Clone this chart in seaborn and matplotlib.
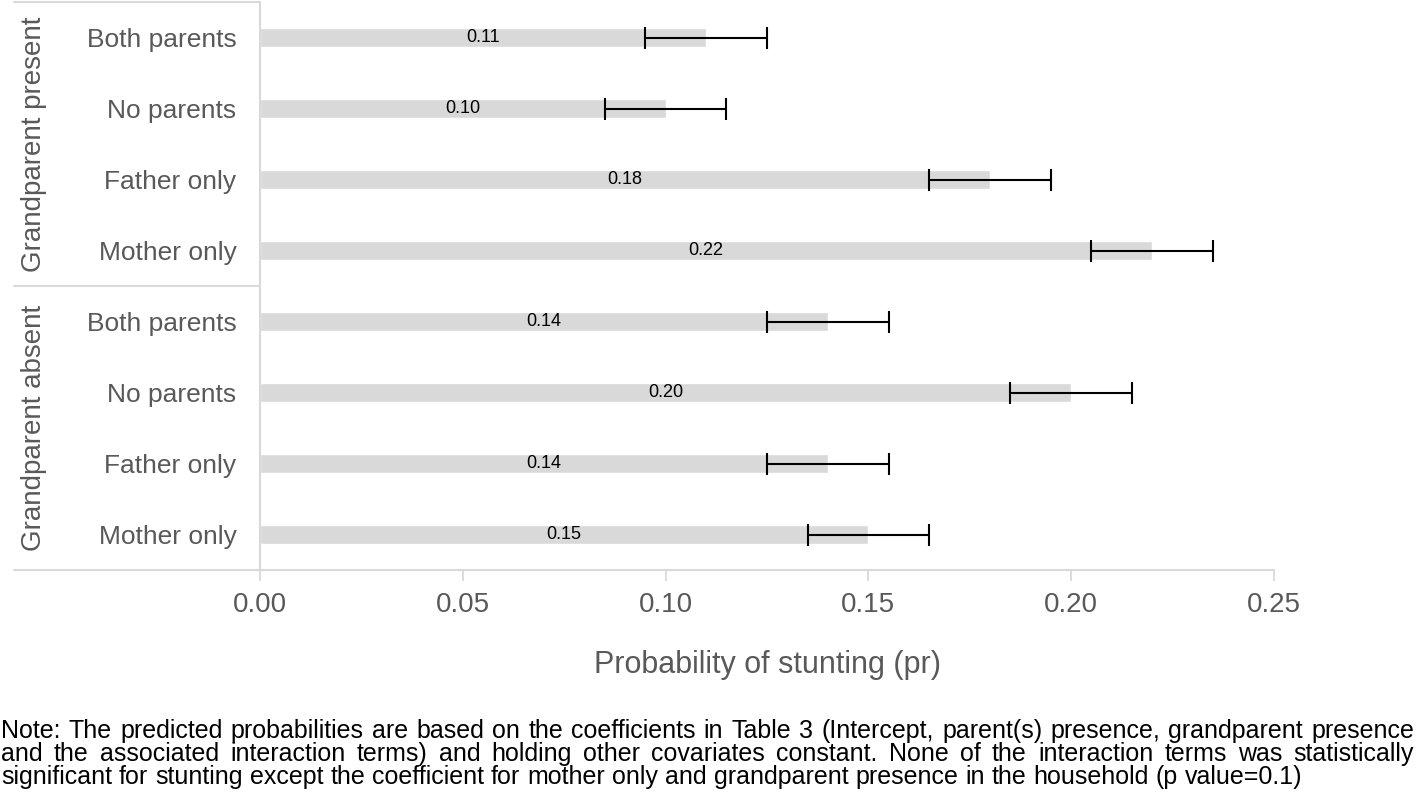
import matplotlib
matplotlib.use('Agg')
import matplotlib.pyplot as plt
import seaborn as sns
import pandas as pd
import numpy as np

# ---------------- data ----------------
groups = ['Grandparent present'] * 4 + ['Grandparent absent'] * 4
parents = ['Both parents', 'No parents', 'Father only', 'Mother only',
           'Both parents', 'No parents', 'Father only', 'Mother only']
probs = [0.11, 0.10, 0.18, 0.22, 0.14, 0.20, 0.14, 0.15]
err_lo = [0.015, 0.015, 0.015, 0.015, 0.015, 0.015, 0.015, 0.015]
err_hi = [0.015, 0.015, 0.015, 0.015, 0.015, 0.015, 0.015, 0.015]
xticks = [0.00, 0.05, 0.10, 0.15, 0.20, 0.25]
group_names = ['Grandparent present', 'Grandparent absent']
xlabel = 'Probability of stunting (pr)'
note_lines = [
    'Note: The predicted probabilities are based on the coefficients in Table 3 (Intercept, parent(s) presence, grandparent presence',
    'and the associated interaction terms) and holding other covariates constant. None of the interaction terms was statistically',
    'significant for stunting except the coefficient for mother only and grandparent presence in the household (p value=0.1)',
]

# ---------------- style ----------------
sns.set_theme(style='white')
plt.rcParams['font.family'] = ['Liberation Sans', 'DejaVu Sans']
GRAY_TXT = '#595959'
GRID = '#d9d9d9'

W, H = 1418, 809
fig = plt.figure(figsize=(W / 100, H / 100), dpi=100)
ax = fig.add_axes([260 / W, 1 - 570 / H, (1274 - 260) / W, (570 - 2) / H])

df = pd.DataFrame({'key': [f'{g}|{p}' for g, p in zip(groups, parents)],
                   'prob': probs})
sns.barplot(data=df, x='prob', y='key', orient='h', color=GRID, saturation=1,
            width=0.26, errorbar=None, ax=ax)

ypos = np.arange(len(probs))
ax.errorbar(df['prob'], ypos, xerr=[err_lo, err_hi], fmt='none',
            ecolor='black', elinewidth=1.5, capsize=8, capthick=1.5, zorder=3)

ax.bar_label(ax.containers[0], labels=[f'{v:.2f}' for v in probs],
             label_type='center', fontsize=13, color='black')

ax.set_xlim(0, 0.25)
ax.set_ylim(len(probs) - 0.5, -0.5)
ax.set_xticks(xticks)
ax.set_xticklabels([f'{t:.2f}' for t in xticks])
ax.set_yticks(ypos)
ax.set_yticklabels(parents)
ax.tick_params(axis='x', bottom=True, length=8, color=GRID, width=1.3,
               labelsize=20, labelcolor=GRAY_TXT, pad=8, direction='out')
ax.tick_params(axis='y', left=False, length=0, labelsize=19,
               labelcolor=GRAY_TXT, pad=17)
sns.despine(ax=ax, top=True, right=True)
for s in ['left', 'bottom']:
    ax.spines[s].set_color(GRID)
    ax.spines[s].set_linewidth(1.5)
ax.set_ylabel('')
ax.set_xlabel(xlabel, fontsize=22, color=GRAY_TXT, labelpad=23)

# group box lines and labels
tr = ax.get_yaxis_transform()
x_left = (14 - 260) / (1274 - 260)
for yb in [-0.5, 3.5, 7.5]:
    ax.plot([x_left, 0], [yb, yb], transform=tr, clip_on=False,
            color=GRID, lw=1.5)
x_grp = (34 - 260) / (1274 - 260)
for i, g in enumerate(group_names):
    ax.text(x_grp, 1.5 + 4 * i, g, rotation=90, transform=tr, ha='center',
            va='center', fontsize=20, color=GRAY_TXT)

# ---------------- justified note ----------------
fig.canvas.draw()
renderer = fig.canvas.get_renderer()
note_family = ['Liberation Sans Narrow', 'Liberation Sans']

probe = fig.text(0, 0, note_lines[2], fontsize=10, family=note_family)
w10 = probe.get_window_extent(renderer).width
probe.remove()
note_fs = 10 * (1306 - 1) / w10

def place_line(line, yc, x0, x1, justify):
    words = line.split(' ')
    texts = [fig.text(0, 1 - yc / H, w, fontsize=note_fs, family=note_family,
                      va='center', ha='left', color='black') for w in words]
    widths = [t.get_window_extent(renderer).width for t in texts]
    if justify:
        gap = (x1 - x0 - sum(widths)) / (len(words) - 1)
    else:
        a = fig.text(0, 0, 'x x', fontsize=note_fs, family=note_family)
        b = fig.text(0, 0, 'xx', fontsize=note_fs, family=note_family)
        gap = a.get_window_extent(renderer).width - b.get_window_extent(renderer).width
        a.remove(); b.remove()
    x = x0
    for t, w in zip(texts, widths):
        t.set_x(x / W)
        x += w + gap

note_y = [731, 754, 777]
for i, line in enumerate(note_lines):
    place_line(line, note_y[i], 1, 1414, justify=(i < 2))

fig.savefig('out.png', dpi=100)
